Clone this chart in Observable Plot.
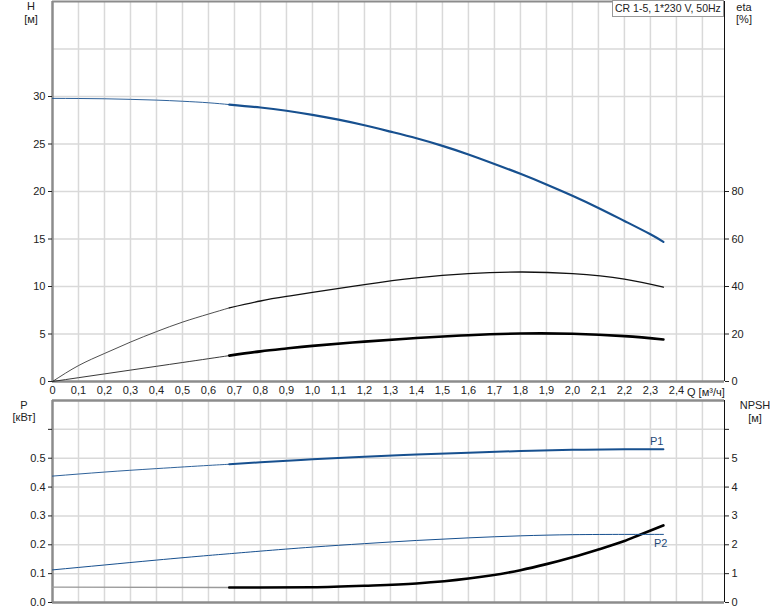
<!DOCTYPE html>
<html><head><meta charset="utf-8">
<script src="https://cdn.jsdelivr.net/npm/d3@7"></script>
<script src="https://cdn.jsdelivr.net/npm/@observablehq/plot@0.6"></script>
<style>
body{margin:0;background:#fff;font-family:"Liberation Sans",Arial,sans-serif;}
#wrap{position:relative;width:774px;height:611px;overflow:hidden;background:#fff;}
#wrap svg{position:absolute;left:0;}
.lbl{position:absolute;font-size:11px;color:#222;transform:translate(-50%,-50%);white-space:nowrap;line-height:1;}
.legend{position:absolute;left:612px;top:0px;border:1px solid #999;background:#fff;font-size:10.5px;color:#222;line-height:15px;padding-left:2px;box-sizing:border-box;width:112px;height:17px;white-space:nowrap;overflow:hidden;}
</style></head><body><div id="wrap"></div>
<script>
// ---- data ----
const Q_OP = 0.68; // start of the thick (operating) part of each curve

const qH   = [0, 0.1, 0.2, 0.3, 0.4, 0.5, 0.6, 0.68, 0.8, 0.9, 1.0, 1.1, 1.2, 1.3, 1.4, 1.5, 1.6, 1.7, 1.8, 1.9, 2.0, 2.1, 2.2, 2.3, 2.35];
const hVal = [29.8, 29.79, 29.76, 29.7, 29.62, 29.5, 29.34, 29.15, 28.84, 28.5, 28.07, 27.56, 26.97, 26.3, 25.6, 24.8, 23.9, 22.9, 21.86, 20.74, 19.55, 18.27, 16.9, 15.5, 14.7];

const qEta    = [0, 0.1, 0.2, 0.3, 0.4, 0.5, 0.6, 0.68, 0.8, 0.9, 1.0, 1.2, 1.4, 1.6, 1.8, 2.0, 2.2, 2.35];
const etaPump = [0, 6.7, 11.8, 16.6, 21, 25, 28.4, 31.0, 33.9, 35.8, 37.5, 40.8, 43.6, 45.4, 46.1, 45.4, 43.1, 39.7];
const etaTot  = [0, 1.6, 3.2, 4.8, 6.4, 8.0, 9.6, 10.9, 12.7, 13.9, 15.0, 16.8, 18.3, 19.5, 20.2, 20.1, 19.1, 17.7];

const qP = [0, 0.2, 0.4, 0.6, 0.68, 0.8, 1.0, 1.2, 1.4, 1.6, 1.8, 2.0, 2.2, 2.35];
const p1 = [0.438, 0.452, 0.464, 0.475, 0.479, 0.486, 0.496, 0.505, 0.513, 0.519, 0.525, 0.529, 0.531, 0.531];
const p2 = [0.113, 0.13, 0.147, 0.163, 0.169, 0.178, 0.192, 0.204, 0.215, 0.224, 0.231, 0.235, 0.236, 0.236];

const qN   = [0, 0.68, 0.8, 1.0, 1.2, 1.4, 1.6, 1.8, 1.9, 2.0, 2.1, 2.2, 2.26, 2.35];
const npsh = [0.53, 0.52, 0.52, 0.53, 0.58, 0.66, 0.83, 1.12, 1.33, 1.57, 1.84, 2.13, 2.35, 2.67];

const xTicks    = d3.range(0, 25).map(i => i / 10);
const xGrid     = d3.range(1, 26).map(i => i / 10);
const hTicks    = [0, 5, 10, 15, 20, 25, 30];
const hGrid     = [5, 10, 15, 20, 25, 30, 35];
const etaTicks  = [0, 20, 40, 60, 80];
const pTicks    = [0, 0.1, 0.2, 0.3, 0.4, 0.5];
const pGrid     = [0.1, 0.2, 0.3, 0.4, 0.5, 0.6];
const npshTicks = [0, 1, 2, 3, 4, 5];
const chartTitle = "CR 1-5, 1*230 V, 50Hz";

// ---- helpers ----
const rows = (qs, vs) => qs.map((q, i) => ({q, v: vs[i]}));
const thin = r => r.filter(d => d.q <= Q_OP + 1e-9);
const thick = r => r.filter(d => d.q >= Q_OP - 1e-9);
const BLUE = "#17508f";
const GRID = "#d9d9d9";
const AX = "#8c8c8c";
const XMAX = 2.585;
const CURVE = "natural";
const fmtQ = d => d === 0 ? "0" : d.toFixed(1).replace(".", ",");
const baseStyle = {fontFamily: "'Liberation Sans', Arial, sans-serif", fontSize: "11px", color: "#222", background: "transparent", overflow: "visible"};

const H = rows(qH, hVal), EP = rows(qEta, etaPump), ET = rows(qEta, etaTot);
const P1 = rows(qP, p1), P2 = rows(qP, p2), NP = rows(qN, npsh);

// ---- top panel: H and eta ----
const topChart = Plot.plot({
  width: 774, height: 400,
  marginLeft: 52, marginRight: 50, marginTop: 1, marginBottom: 19,
  x: {domain: [0, XMAX]}, y: {domain: [0, 40]},
  style: baseStyle,
  marks: [
    Plot.ruleX(xGrid, {stroke: GRID, strokeWidth: 1.5}),
    Plot.ruleY(hGrid, {stroke: GRID, strokeWidth: 1.5}),
    Plot.ruleY([40], {stroke: AX, strokeWidth: 2}),
    Plot.ruleX([0], {stroke: AX, strokeWidth: 2.5}),
    Plot.ruleY([0], {stroke: AX, strokeWidth: 2.5}),
    Plot.ruleX([XMAX], {stroke: "#111", strokeWidth: 1}),
    Plot.axisY(hTicks, {anchor: "left", tickSize: 4, tickPadding: 3, label: null}),
    Plot.axisY(etaTicks.map(d => d / 4), {anchor: "right", tickSize: 4, tickPadding: 3, tickFormat: d => String(d * 4), label: null}),
    Plot.axisX(xTicks, {anchor: "bottom", tickSize: 0, tickPadding: 5, tickFormat: fmtQ, label: null}),
    Plot.line(thin(EP), {x: "q", y: d => d.v / 4, stroke: "#222", strokeWidth: 0.8, curve: CURVE}),
    Plot.line(thick(EP), {x: "q", y: d => d.v / 4, stroke: "#111", strokeWidth: 1.3, curve: CURVE}),
    Plot.line(thin(ET), {x: "q", y: d => d.v / 4, stroke: "#222", strokeWidth: 0.9, curve: CURVE}),
    Plot.line(thick(ET), {x: "q", y: d => d.v / 4, stroke: "#000", strokeWidth: 2.6, curve: CURVE}),
    Plot.line(thin(H), {x: "q", y: "v", stroke: BLUE, strokeWidth: 0.9, curve: CURVE}),
    Plot.line(thick(H), {x: "q", y: "v", stroke: BLUE, strokeWidth: 2.2, curve: CURVE})
  ]
});
topChart.style.top = "0px";

// ---- bottom panel: P1, P2, NPSH ----
const botChart = Plot.plot({
  width: 774, height: 212,
  marginLeft: 52, marginRight: 50, marginTop: 1, marginBottom: 9,
  x: {domain: [0, XMAX], axis: null}, y: {domain: [0, 0.7]},
  style: baseStyle,
  marks: [
    Plot.ruleX(xGrid, {stroke: GRID, strokeWidth: 1.5}),
    Plot.ruleY(pGrid, {stroke: GRID, strokeWidth: 1.5}),
    Plot.ruleY([0.7], {stroke: AX, strokeWidth: 2.5}),
    Plot.ruleX([0], {stroke: AX, strokeWidth: 2.5}),
    Plot.ruleY([0], {stroke: AX, strokeWidth: 2.5}),
    Plot.ruleX([XMAX], {stroke: "#111", strokeWidth: 1}),
    Plot.axisY(pTicks, {anchor: "left", tickSize: 4, tickPadding: 3, tickFormat: d => d.toFixed(1), label: null}),
    Plot.axisY([0.6], {anchor: "left", tickSize: 4, tickFormat: () => "", label: null}),
    Plot.axisY(npshTicks.map(d => d / 10), {anchor: "right", tickSize: 4, tickPadding: 3, tickFormat: d => String(Math.round(d * 10)), label: null}),
    Plot.axisY([0.6], {anchor: "right", tickSize: 4, tickFormat: () => "", label: null}),
    Plot.line(thin(NP), {x: "q", y: d => d.v / 10, stroke: "#9a9a9a", strokeWidth: 1.3, curve: CURVE}),
    Plot.line(thick(NP), {x: "q", y: d => d.v / 10, stroke: "#000", strokeWidth: 2.6, curve: "monotone-x"}),
    Plot.line(P2, {x: "q", y: "v", stroke: BLUE, strokeWidth: 1, curve: CURVE}),
    Plot.line(thin(P1), {x: "q", y: "v", stroke: BLUE, strokeWidth: 0.9, curve: CURVE}),
    Plot.line(thick(P1), {x: "q", y: "v", stroke: BLUE, strokeWidth: 2, curve: CURVE}),
    Plot.text([P1[P1.length - 1]], {x: "q", y: "v", text: () => "P1", dy: -8, textAnchor: "end", fill: "#1f4a78", fontSize: 11}),
    Plot.text([P2[P2.length - 1]], {x: "q", y: "v", text: () => "P2", dx: 4, dy: 9, textAnchor: "end", fill: "#1f4a78", fontSize: 11})
  ]
});
botChart.style.top = "399px";

const wrap = document.getElementById("wrap");
wrap.appendChild(topChart);
wrap.appendChild(botChart);

const addLbl = (txt, x, y) => {
  const d = document.createElement("div");
  d.className = "lbl"; d.textContent = txt;
  d.style.left = x + "px"; d.style.top = y + "px";
  wrap.appendChild(d);
  return d;
};
addLbl("H", 31, 6);
addLbl("[м]", 31, 19);
addLbl("eta", 744, 7);
addLbl("[%]", 744, 19);
addLbl("P", 24, 405);
addLbl("[кВт]", 24, 417);
addLbl("NPSH", 755, 405);
addLbl("[м]", 755, 418);
const qLbl = addLbl("Q [м³/ч]", 687, 392);
qLbl.style.transform = "translate(0,-50%)";
const lg = document.createElement("div");
lg.className = "legend"; lg.textContent = chartTitle;
wrap.appendChild(lg);
</script></body></html>
